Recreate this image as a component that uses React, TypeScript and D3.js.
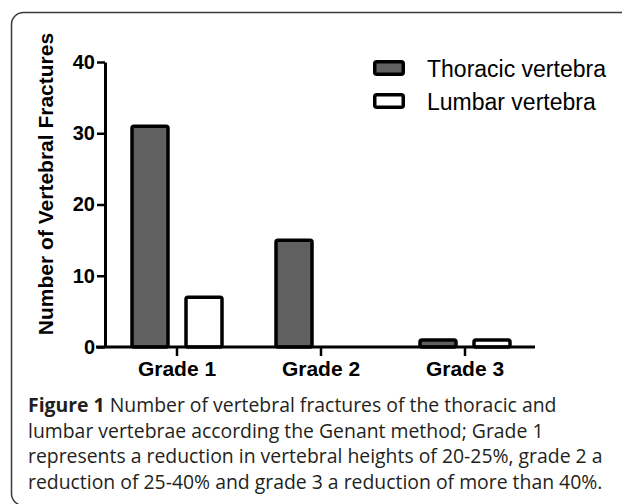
import React, { useEffect, useRef } from 'react'
import * as d3 from 'd3'

const grades = ['Grade 1', 'Grade 2', 'Grade 3']
const seriesNames = ['Thoracic vertebra', 'Lumbar vertebra']
const thoracic = [31, 15, 1]
const lumbar = [7, 0, 1]
const yTicks = [0, 10, 20, 30, 40]
const seriesFill = ['#606060', '#ffffff']
const captionLines = [
  ['Figure 1', ' Number of vertebral fractures of the thoracic and'],
  ['', 'lumbar vertebrae according the Genant method; Grade 1'],
  ['', 'represents a reduction in vertebral heights of 20-25%, grade 2 a'],
  ['', 'reduction of 25-40% and grade 3 a reduction of more than 40%.'],
]

export default function App() {
  const svgRef = useRef<SVGSVGElement>(null)

  useEffect(() => {
    if (!svgRef.current) return
    const svg = d3.select(svgRef.current)
    svg.selectAll('*').remove()

    // Frame
    svg.append('rect')
      .attr('x', 11.5)
      .attr('y', 12.5)
      .attr('width', 700)
      .attr('height', 493)
      .attr('rx', 12)
      .attr('fill', 'none')
      .attr('stroke', '#3a3a3a')
      .attr('stroke-width', 1.5)

    const left = 105
    const right = 537
    const top = 62
    const bottom = 347

    const x = d3.scaleBand().domain(grades).range([left, right])
    const inner = d3.scaleBand().domain(seriesNames).range([-45, 45]).paddingInner(1 / 3)
    const y = d3.scaleLinear().domain([0, 40]).range([bottom, top])

    const font = '"Liberation Sans", Arial, sans-serif'

    // Bars
    const values = [thoracic, lumbar]
    seriesNames.forEach((s, si) => {
      svg.append('g')
        .selectAll('rect')
        .data(grades.map((g, i) => ({ g, v: values[si][i] })).filter(d => d.v > 0))
        .enter()
        .append('rect')
        .attr('x', d => (x(d.g) as number) + x.bandwidth() / 2 + (inner(s) as number))
        .attr('y', d => y(d.v))
        .attr('width', inner.bandwidth())
        .attr('height', d => bottom - y(d.v))
        .attr('rx', 2)
        .attr('fill', seriesFill[si])
        .attr('stroke', '#000')
        .attr('stroke-width', 3.5)
    })

    // Y axis
    const yAxis = svg.append('g')
      .attr('transform', `translate(${left},0)`)
      .call(d3.axisLeft(y).tickValues(yTicks).tickSize(8).tickSizeOuter(0).tickPadding(2))
    yAxis.select('.domain').attr('stroke', '#000').attr('stroke-width', 3)
    yAxis.selectAll('.tick line').attr('stroke', '#000').attr('stroke-width', 2.5)
    yAxis.selectAll('.tick text')
      .attr('fill', '#000')
      .style('font-family', font)
      .style('font-size', '20px')
      .style('font-weight', 'bold')

    // X axis
    const xAxis = svg.append('g')
      .attr('transform', `translate(0,${bottom})`)
      .call(d3.axisBottom(x).tickSize(9).tickSizeOuter(0).tickPadding(5))
    xAxis.select('.domain')
      .attr('d', `M${left - 9},0H${right - 2}`)
      .attr('stroke', '#000')
      .attr('stroke-width', 3)
    xAxis.selectAll('.tick line').attr('stroke', '#000').attr('stroke-width', 2.5)
    xAxis.selectAll('.tick text')
      .attr('fill', '#000')
      .style('font-family', font)
      .style('font-size', '21px')
      .style('font-weight', 'bold')

    // Y title
    svg.append('text')
      .attr('transform', `translate(53,184) rotate(-90)`)
      .attr('text-anchor', 'middle')
      .style('font-family', font)
      .style('font-size', '21px')
      .style('font-weight', 'bold')
      .attr('fill', '#000')
      .text('Number of Vertebral Fractures')

    // Legend
    const legend = svg.append('g').attr('transform', 'translate(373,60)')
    seriesNames.forEach((s, i) => {
      legend.append('rect')
        .attr('x', 1.75)
        .attr('y', i * 33 + 1.75)
        .attr('width', 28.5)
        .attr('height', 12.5)
        .attr('rx', 2)
        .attr('fill', seriesFill[i])
        .attr('stroke', '#000')
        .attr('stroke-width', 3.5)
      legend.append('text')
        .attr('x', 54)
        .attr('y', i * 33 + 17)
        .style('font-family', font)
        .style('font-size', '23px')
        .attr('fill', '#000')
        .text(s)
    })

    // Caption
    const cap = svg.append('text')
      .style('font-family', '"Open Sans", "Noto Sans", sans-serif')
      .style('font-size', '19.4px')
      .style('font-weight', 500)
      .attr('fill', '#231f20')
    captionLines.forEach((line, i) => {
      const t = cap.append('tspan').attr('x', 28).attr('y', 412 + i * 25.7)
      if (line[0]) t.append('tspan').style('font-weight', 'bold').text(line[0])
      t.append('tspan').text(line[1])
    })
  }, [])

  return (
    <svg
      ref={svgRef}
      width={622}
      height={504}
      style={{ position: 'absolute', left: 0, top: 0, background: '#fff' }}
    />
  )
}
